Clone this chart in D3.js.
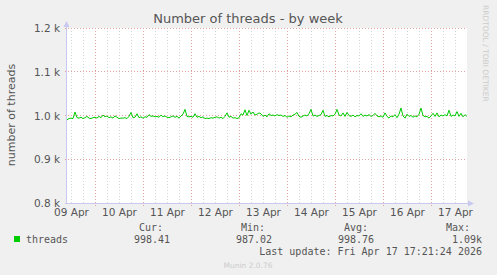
<!DOCTYPE html>
<html><head><meta charset="utf-8">
<script src="https://cdn.jsdelivr.net/npm/d3@7"></script>
<style>
html,body{margin:0;padding:0;background:#f0f0f0;}
svg{display:block;}
</style></head>
<body>
<svg id="c" width="497" height="275"></svg>
<script>
const titleText = "Number of threads - by week";
const yLabel = "number of threads";
const seriesName = "threads";
const startTime = Date.UTC(2026, 3, 9, 9, 45);
const stepHours = 1;
const threads = [
990,993,994,993,1008,995,994,996,993,995,998,994,993,995,996,994,998,995,1001,997,
999,995,997,994,999,996,993,994,994,995,993,998,1007,995,996,1004,995,997,994,997,
996,1002,998,999,997,998,996,1001,997,999,996,
995,997,999,996,998,994,999,1003,1014,998,997,998,996,1004,996,998,995,997,993,994,
993,995,994,996,997,994,996,993,998,1006,996,998,994,995,993,995,1004,1001,1013,1000,
1012,1003,1008,1001,1003,1006,1004,998,1001,997,1004,
1000,1001,999,1002,1000,1001,998,1000,996,999,997,1001,1003,1007,998,996,999,1001,999,1004,
1014,999,1001,998,1000,1002,1012,998,1000,997,1000,999,1003,1014,1001,999,1006,998,1007,1000,
998,1001,997,1000,999,1004,998,1001,999,1002,998,
1000,1005,999,997,999,996,1006,998,994,999,997,1002,995,1003,1017,999,994,1003,998,1000,
996,999,997,1003,1017,1000,997,998,994,999,1005,998,1006,997,1001,999,1002,999,1012,998,
1001,999,1009,998,1005,997,1002,998
];
const yTicks = [800, 900, 1000, 1100, 1200];
const legendHeads = ["Cur:", "Min:", "Avg:", "Max:"];
const legendVals = ["998.41", "987.02", "998.76", "1.09k"];
const lastUpdate = "Last update: Fri Apr 17 17:21:24 2026";
const footer = "Munin 2.0.76";
const sideText = "RRDTOOL / TOBI OETIKER";

const svg = d3.select("#c");
const L = 67, R = 467, T = 28, B = 203;
const data = threads.map((v, i) => ({t: new Date(startTime + i * stepHours * 3600e3), v}));
const x = d3.scaleUtc().domain([new Date(startTime), new Date(startTime + (threads.length - 1) * stepHours * 3600e3)]).range([L, R]);
const y = d3.scaleLinear().domain([800, 1200]).range([B, T]);

svg.append("rect").attr("x", L).attr("y", T).attr("width", R - L).attr("height", B - T).attr("fill", "#fff");

const px = v => Math.floor(v) + 0.5;
// minor vertical grid
const minor = d3.utcHour.every(6).range(x.domain()[0], x.domain()[1]);
svg.append("g").selectAll("line").data(minor.filter(d => d.getUTCHours() !== 0)).join("line")
  .attr("x1", d => px(x(d))).attr("x2", d => px(x(d))).attr("y1", T).attr("y2", B)
  .attr("stroke", "#d4d4d4").attr("stroke-dasharray", "1,2");
// major vertical grid
const days = d3.utcDay.range(x.domain()[0], x.domain()[1]);
svg.append("g").selectAll("line").data(days).join("line")
  .attr("x1", d => px(x(d))).attr("x2", d => px(x(d))).attr("y1", T).attr("y2", B + 3)
  .attr("stroke", "#e3a3a3").attr("stroke-dasharray", "1,2");
// horizontal grid
svg.append("g").selectAll("line").data(yTicks).join("line")
  .attr("x1", L - 2).attr("x2", R).attr("y1", d => px(y(d))).attr("y2", d => px(y(d)))
  .attr("stroke", "#e3a3a3").attr("stroke-dasharray", "1,2");

// axes lines
svg.append("line").attr("x1", L - 0.5).attr("x2", L - 0.5).attr("y1", B + 1).attr("y2", T - 4).attr("stroke", "#c8c8f0");
svg.append("path").attr("d", `M${L - 3.5},${T - 1}L${L - 0.5},${T - 7}L${L + 2.5},${T - 1}Z`).attr("fill", "#c8c8f0");
svg.append("line").attr("x1", L - 2).attr("x2", R + 4).attr("y1", B + 0.5).attr("y2", B + 0.5).attr("stroke", "#c8c8f0");
svg.append("path").attr("d", `M${R + 1},${B - 2.5}L${R + 7},${B + 0.5}L${R + 1},${B + 3.5}Z`).attr("fill", "#c8c8f0");

// y tick labels
svg.append("g").selectAll("text").data(yTicks).join("text")
  .attr("x", 60).attr("y", d => y(d) + 4).attr("text-anchor", "end")
  .attr("font-family", "DejaVu Sans").attr("font-size", 10.5).attr("fill", "#555")
  .text(d => d3.format(".1f")(d / 1000) + " k");
// x tick labels at noon
svg.append("g").selectAll("text").data(days.concat([d3.utcDay.floor(x.domain()[0])])).join("text")
  .attr("x", d => x(new Date(+d + 12 * 3600e3))).attr("y", 216).attr("text-anchor", "middle")
  .attr("font-family", "DejaVu Sans").attr("font-size", 10.5).attr("fill", "#555")
  .text(d => d3.utcFormat("%d %b")(d));

// line
svg.append("path").datum(data)
  .attr("d", d3.line().x(d => x(d.t)).y(d => y(d.v)))
  .attr("fill", "none").attr("stroke", "#00cc00").attr("stroke-width", 1);

// title
svg.append("text").attr("x", 248).attr("y", 23).attr("text-anchor", "middle")
  .attr("font-family", "DejaVu Sans").attr("font-size", 13).attr("fill", "#555").text(titleText);
// y label
svg.append("text").attr("transform", "translate(15,115) rotate(-90)").attr("text-anchor", "middle")
  .attr("font-family", "DejaVu Sans").attr("font-size", 11).attr("fill", "#555").text(yLabel);
// side text
svg.append("text").attr("transform", "translate(483,5) rotate(90)").attr("text-anchor", "start")
  .attr("font-family", "DejaVu Sans").attr("font-size", 7.5).attr("fill", "#ccc").text(sideText);

// legend
const mono = "DejaVu Sans Mono";
svg.append("rect").attr("x", 14).attr("y", 236).attr("width", 6).attr("height", 6).attr("fill", "#00cc00");
svg.append("text").attr("x", 26).attr("y", 243).attr("font-family", mono).attr("font-size", 10).attr("fill", "#555").text(seriesName);
const headX = [163, 265, 368, 470];
const valX = [170, 272, 374, 482];
svg.append("g").selectAll("text").data(legendHeads).join("text")
  .attr("x", (d, i) => headX[i]).attr("y", 231).attr("text-anchor", "end")
  .attr("font-family", mono).attr("font-size", 10).attr("fill", "#555").text(d => d);
svg.append("g").selectAll("text").data(legendVals).join("text")
  .attr("x", (d, i) => valX[i]).attr("y", 243).attr("text-anchor", "end")
  .attr("font-family", mono).attr("font-size", 10).attr("fill", "#555").text(d => d);
svg.append("text").attr("x", 482).attr("y", 255).attr("text-anchor", "end")
  .attr("font-family", mono).attr("font-size", 10).attr("fill", "#555").text(lastUpdate);
svg.append("text").attr("x", 248).attr("y", 268).attr("text-anchor", "middle")
  .attr("font-family", "DejaVu Sans").attr("font-size", 7.5).attr("fill", "#ccc").text(footer);
</script>
</body></html>
